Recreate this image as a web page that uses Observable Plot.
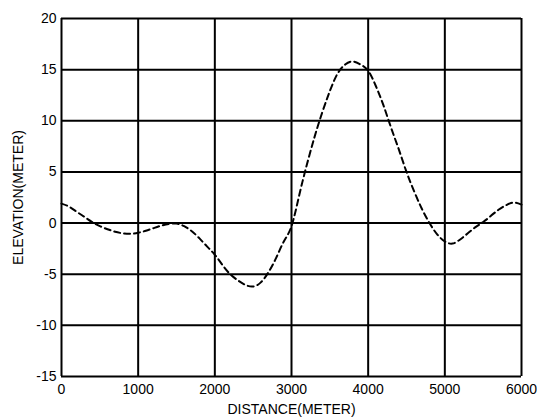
<!DOCTYPE html>
<html>
<head>
<meta charset="utf-8">
<script src="https://cdn.jsdelivr.net/npm/d3@7"></script>
<script src="https://cdn.jsdelivr.net/npm/@observablehq/plot@0.6"></script>
<style>
  html, body { margin: 0; padding: 0; background: #fff; }
  #chart { width: 537px; height: 417px; }
</style>
</head>
<body>
<div id="chart"></div>
<script>
const distance = [0,100,200,300,400,500,600,700,800,900,1000,1100,1200,1300,1400,1500,1600,1700,1800,1900,2000,2100,2200,2300,2400,2500,2600,2700,2800,2900,3000,3100,3200,3300,3400,3500,3600,3700,3800,3900,4000,4100,4200,4300,4400,4500,4600,4700,4800,4900,5000,5100,5200,5300,5400,5500,5600,5700,5800,5900,6000];
const elevation = [1.9,1.6,1.1,0.6,0.1,-0.3,-0.6,-0.85,-1.0,-1.05,-0.95,-0.75,-0.5,-0.25,-0.08,-0.05,-0.3,-0.8,-1.5,-2.3,-3.1,-4.1,-5.0,-5.6,-6.05,-6.2,-5.8,-4.8,-3.4,-1.8,-0.3,2.7,5.7,8.4,10.8,12.9,14.6,15.5,15.8,15.5,14.9,13.4,11.5,9.3,7.2,5.0,3.1,1.4,0.0,-1.1,-1.8,-2.0,-1.6,-1.0,-0.4,0.1,0.7,1.3,1.75,2.0,1.8];
const xTicks = [0,1000,2000,3000,4000,5000,6000];
const yTicks = [-15,-10,-5,0,5,10,15,20];

const data = distance.map((d, i) => ({distance: d, elevation: elevation[i]}));

const chart = Plot.plot({
  width: 537,
  height: 417,
  marginLeft: 61,
  marginRight: 16,
  marginTop: 18,
  marginBottom: 41,
  style: {fontFamily: "'Liberation Sans', Arial, sans-serif", fontSize: "14px", color: "#000", background: "#fff"},
  x: {domain: [0, 6000], ticks: xTicks, label: "DISTANCE(METER)", labelAnchor: "center", labelArrow: "none", tickSize: 0, tickPadding: 8, labelOffset: 37, tickFormat: d => String(d)},
  y: {domain: [-15, 20], ticks: yTicks, label: "ELEVATION(METER)", labelAnchor: "center", labelArrow: "none", tickSize: 0, tickPadding: 5, labelOffset: 48, tickFormat: d => String(d)},
  marks: [
    Plot.ruleX(xTicks, {stroke: "#000", strokeWidth: 2}),
    Plot.ruleY(yTicks, {stroke: "#000", strokeWidth: 2}),
    Plot.line(data, {x: "distance", y: "elevation", curve: "natural", stroke: "#000", strokeWidth: 2, strokeDasharray: "6,4"})
  ]
});
document.getElementById("chart").appendChild(chart);
</script>
</body>
</html>
